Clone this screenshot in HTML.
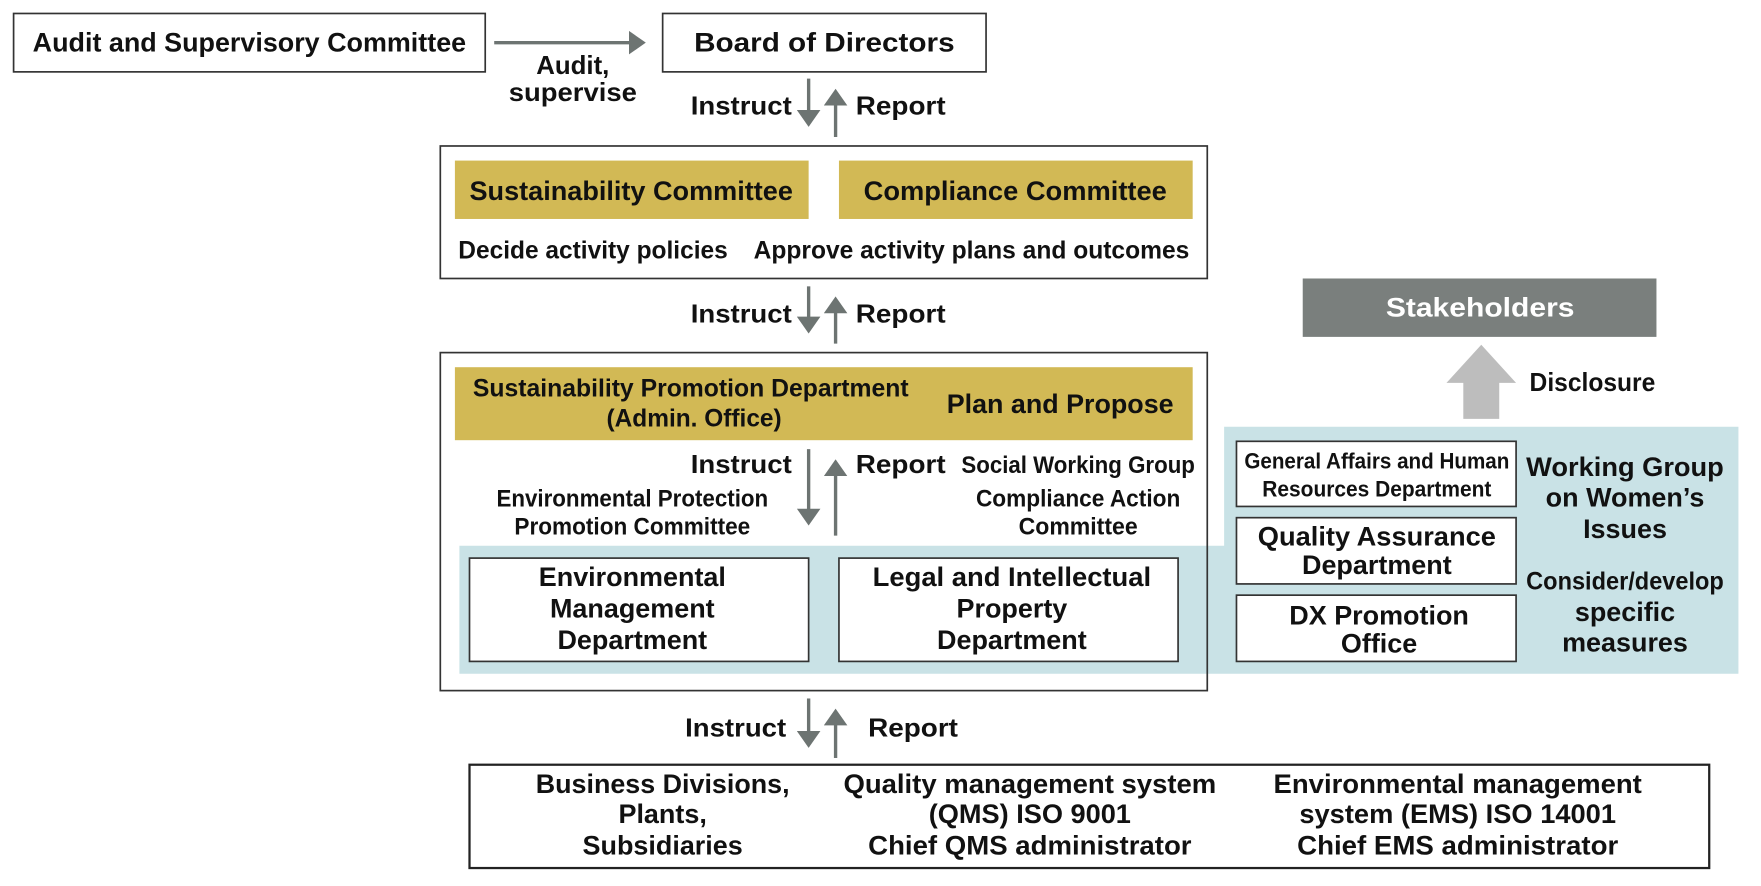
<!DOCTYPE html>
<html><head><meta charset="utf-8"><style>
html,body{margin:0;padding:0;background:#fff;}
svg{display:block;}
text{font-family:"Liberation Sans",Arial,sans-serif;fill:#111;font-weight:bold;}
</style></head><body>
<svg width="1761" height="886" viewBox="0 0 1568 789" xmlns="http://www.w3.org/2000/svg">
<defs>
<marker id="ah" markerWidth="5" markerHeight="7" refX="4" refY="3.5" orient="auto" markerUnits="strokeWidth">
<path d="M0,0 L5,3.5 L0,7 Z" fill="#6d7472"/></marker>
</defs>
<g font-size="24">
<path d="M409,486 H1090 V380 H1548 V600 H409 Z" fill="#c9e2e6"/>
<rect x="12" y="12" width="420" height="52" fill="#fff" stroke="#333" stroke-width="1.5"/>
<text x="222" y="46" text-anchor="middle" textLength="386" lengthAdjust="spacingAndGlyphs">Audit and Supervisory Committee</text>
<line x1="440" y1="38" x2="572" y2="38" stroke="#6d7472" stroke-width="3" marker-end="url(#ah)"/>
<text x="510" y="66" text-anchor="middle" font-size="23">Audit,</text>
<text x="510" y="90" text-anchor="middle" font-size="23" textLength="114" lengthAdjust="spacingAndGlyphs">supervise</text>
<rect x="590" y="12" width="288" height="52" fill="#fff" stroke="#333" stroke-width="1.5"/>
<text x="734" y="46" text-anchor="middle" textLength="232" lengthAdjust="spacingAndGlyphs">Board of Directors</text>
<g stroke="#6d7472" stroke-width="3">
<line x1="720" y1="70" x2="720" y2="110" marker-end="url(#ah)"/>
<line x1="744" y1="122" x2="744" y2="82" marker-end="url(#ah)"/>
<line x1="720" y1="255" x2="720" y2="294" marker-end="url(#ah)"/>
<line x1="744" y1="306" x2="744" y2="267" marker-end="url(#ah)"/>
<line x1="720" y1="400" x2="720" y2="465" marker-end="url(#ah)"/>
<line x1="744" y1="477" x2="744" y2="412" marker-end="url(#ah)"/>
<line x1="720" y1="622" x2="720" y2="663" marker-end="url(#ah)"/>
<line x1="744" y1="675" x2="744" y2="634" marker-end="url(#ah)"/>
</g>
<text x="705" y="102" text-anchor="end" font-size="23" textLength="90" lengthAdjust="spacingAndGlyphs">Instruct</text>
<text x="762" y="102" font-size="23" textLength="80" lengthAdjust="spacingAndGlyphs">Report</text>
<text x="705" y="287" text-anchor="end" font-size="23" textLength="90" lengthAdjust="spacingAndGlyphs">Instruct</text>
<text x="762" y="287" font-size="23" textLength="80" lengthAdjust="spacingAndGlyphs">Report</text>
<text x="705" y="421" text-anchor="end" font-size="23" textLength="90" lengthAdjust="spacingAndGlyphs">Instruct</text>
<text x="762" y="421" font-size="23" textLength="80" lengthAdjust="spacingAndGlyphs">Report</text>
<text x="700" y="656" text-anchor="end" font-size="23" textLength="90" lengthAdjust="spacingAndGlyphs">Instruct</text>
<text x="773" y="656" font-size="23" textLength="80" lengthAdjust="spacingAndGlyphs">Report</text>
<rect x="392" y="130" width="683" height="118" fill="#fff" stroke="#333" stroke-width="1.5"/>
<rect x="405" y="143" width="315" height="52" fill="#d2b955"/>
<rect x="747" y="143" width="315" height="52" fill="#d2b955"/>
<text x="562" y="178" text-anchor="middle" textLength="288" lengthAdjust="spacingAndGlyphs">Sustainability Committee</text>
<text x="904" y="178" text-anchor="middle" textLength="270" lengthAdjust="spacingAndGlyphs">Compliance Committee</text>
<text x="528" y="230" text-anchor="middle" font-size="22" textLength="240" lengthAdjust="spacingAndGlyphs">Decide activity policies</text>
<text x="865" y="230" text-anchor="middle" font-size="22" textLength="388" lengthAdjust="spacingAndGlyphs">Approve activity plans and outcomes</text>
<rect x="392" y="314" width="683" height="301" fill="none" stroke="#333" stroke-width="1.5"/>
<rect x="405" y="327" width="657" height="65" fill="#d2b955"/>
<text x="615" y="353" text-anchor="middle" font-size="22" textLength="388" lengthAdjust="spacingAndGlyphs">Sustainability Promotion Department</text>
<text x="618" y="380" text-anchor="middle" font-size="22" textLength="156" lengthAdjust="spacingAndGlyphs">(Admin. Office)</text>
<text x="944" y="368" text-anchor="middle" textLength="202" lengthAdjust="spacingAndGlyphs">Plan and Propose</text>
<text x="960" y="421" text-anchor="middle" font-size="21" textLength="208" lengthAdjust="spacingAndGlyphs">Social Working Group</text>
<text x="960" y="451" text-anchor="middle" font-size="21" textLength="182" lengthAdjust="spacingAndGlyphs">Compliance Action</text>
<text x="960" y="476" text-anchor="middle" font-size="21" textLength="106" lengthAdjust="spacingAndGlyphs">Committee</text>
<text x="563" y="451" text-anchor="middle" font-size="21" textLength="242" lengthAdjust="spacingAndGlyphs">Environmental Protection</text>
<text x="563" y="476" text-anchor="middle" font-size="21" textLength="210" lengthAdjust="spacingAndGlyphs">Promotion Committee</text>
<rect x="418" y="497" width="302" height="92" fill="#fff" stroke="#333" stroke-width="1.5"/>
<rect x="747" y="497" width="302" height="92" fill="#fff" stroke="#333" stroke-width="1.5"/>
<text x="563" y="522" text-anchor="middle">Environmental</text>
<text x="563" y="550" text-anchor="middle">Management</text>
<text x="563" y="578" text-anchor="middle">Department</text>
<text x="901" y="522" text-anchor="middle" textLength="248" lengthAdjust="spacingAndGlyphs">Legal and Intellectual</text>
<text x="901" y="550" text-anchor="middle">Property</text>
<text x="901" y="578" text-anchor="middle">Department</text>
<rect x="1101" y="393" width="249" height="58" fill="#fff" stroke="#333" stroke-width="1.5"/>
<rect x="1101" y="461" width="249" height="59" fill="#fff" stroke="#333" stroke-width="1.5"/>
<rect x="1101" y="530" width="249" height="59" fill="#fff" stroke="#333" stroke-width="1.5"/>
<text x="1226" y="417" text-anchor="middle" font-size="20" textLength="236" lengthAdjust="spacingAndGlyphs">General Affairs and Human</text>
<text x="1226" y="442" text-anchor="middle" font-size="20" textLength="204" lengthAdjust="spacingAndGlyphs">Resources Department</text>
<text x="1226" y="486" text-anchor="middle" textLength="212" lengthAdjust="spacingAndGlyphs">Quality Assurance</text>
<text x="1226" y="511" text-anchor="middle">Department</text>
<text x="1228" y="556" text-anchor="middle">DX Promotion</text>
<text x="1228" y="581" text-anchor="middle">Office</text>
<text x="1447" y="424" text-anchor="middle" textLength="176" lengthAdjust="spacingAndGlyphs">Working Group</text>
<text x="1447" y="451" text-anchor="middle">on Women’s</text>
<text x="1447" y="479" text-anchor="middle">Issues</text>
<text x="1447" y="525" text-anchor="middle" font-size="22" textLength="176" lengthAdjust="spacingAndGlyphs">Consider/develop</text>
<text x="1447" y="553" text-anchor="middle">specific</text>
<text x="1447" y="580" text-anchor="middle">measures</text>
<rect x="1160" y="248" width="315" height="52" fill="#7a7f7d"/>
<text x="1318" y="282" text-anchor="middle" style="fill:#fff" textLength="168" lengthAdjust="spacingAndGlyphs">Stakeholders</text>
<path d="M1319,307 L1350,341 L1335,341 L1335,373 L1303,373 L1303,341 L1288,341 Z" fill="#bdbdbd"/>
<text x="1362" y="348" font-size="23" textLength="112" lengthAdjust="spacingAndGlyphs">Disclosure</text>
<rect x="418" y="681" width="1104" height="92" fill="#fff" stroke="#222" stroke-width="2"/>
<text x="590" y="706" text-anchor="middle" textLength="226" lengthAdjust="spacingAndGlyphs">Business Divisions,</text>
<text x="590" y="733" text-anchor="middle">Plants,</text>
<text x="590" y="761" text-anchor="middle">Subsidiaries</text>
<text x="917" y="706" text-anchor="middle" textLength="332" lengthAdjust="spacingAndGlyphs">Quality management system</text>
<text x="917" y="733" text-anchor="middle" textLength="180" lengthAdjust="spacingAndGlyphs">(QMS) ISO 9001</text>
<text x="917" y="761" text-anchor="middle" textLength="288" lengthAdjust="spacingAndGlyphs">Chief QMS administrator</text>
<text x="1298" y="706" text-anchor="middle" textLength="328" lengthAdjust="spacingAndGlyphs">Environmental management</text>
<text x="1298" y="733" text-anchor="middle" textLength="282" lengthAdjust="spacingAndGlyphs">system (EMS) ISO 14001</text>
<text x="1298" y="761" text-anchor="middle" textLength="286" lengthAdjust="spacingAndGlyphs">Chief EMS administrator</text>
</g>
</svg>
</body></html>
